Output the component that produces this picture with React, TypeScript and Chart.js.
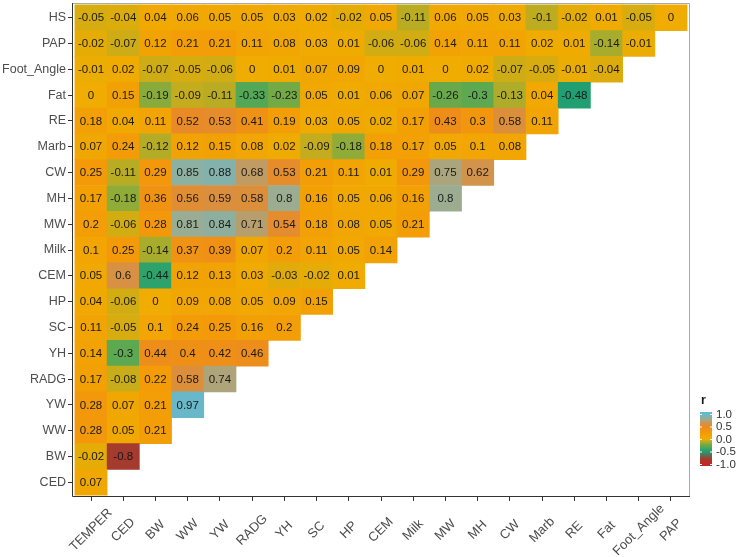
import React, { useEffect, useRef } from "react";
import { Chart, registerables } from "chart.js";

Chart.register(...registerables);

const colLabels = ["TEMPER", "CED", "BW", "WW", "YW", "RADG", "YH", "SC", "HP", "CEM", "Milk", "MW", "MH", "CW", "Marb", "RE", "Fat", "Foot_Angle", "PAP"];
const rowLabels = ["HS", "PAP", "Foot_Angle", "Fat", "RE", "Marb", "CW", "MH", "MW", "Milk", "CEM", "HP", "SC", "YH", "RADG", "YW", "WW", "BW", "CED"];

const rowHS = [-0.05, -0.04, 0.04, 0.06, 0.05, 0.05, 0.03, 0.02, -0.02, 0.05, -0.11, 0.06, 0.05, 0.03, -0.1, -0.02, 0.01, -0.05, 0];
const rowPAP = [-0.02, -0.07, 0.12, 0.21, 0.21, 0.11, 0.08, 0.03, 0.01, -0.06, -0.06, 0.14, 0.11, 0.11, 0.02, 0.01, -0.14, -0.01];
const rowFootAngle = [-0.01, 0.02, -0.07, -0.05, -0.06, 0, 0.01, 0.07, 0.09, 0, 0.01, 0, 0.02, -0.07, -0.05, -0.01, -0.04];
const rowFat = [0, 0.15, -0.19, -0.09, -0.11, -0.33, -0.23, 0.05, 0.01, 0.06, 0.07, -0.26, -0.3, -0.13, 0.04, -0.48];
const rowRE = [0.18, 0.04, 0.11, 0.52, 0.53, 0.41, 0.19, 0.03, 0.05, 0.02, 0.17, 0.43, 0.3, 0.58, 0.11];
const rowMarb = [0.07, 0.24, -0.12, 0.12, 0.15, 0.08, 0.02, -0.09, -0.18, 0.18, 0.17, 0.05, 0.1, 0.08];
const rowCW = [0.25, -0.11, 0.29, 0.85, 0.88, 0.68, 0.53, 0.21, 0.11, 0.01, 0.29, 0.75, 0.62];
const rowMH = [0.17, -0.18, 0.36, 0.56, 0.59, 0.58, 0.8, 0.16, 0.05, 0.06, 0.16, 0.8];
const rowMW = [0.2, -0.06, 0.28, 0.81, 0.84, 0.71, 0.54, 0.18, 0.08, 0.05, 0.21];
const rowMilk = [0.1, 0.25, -0.14, 0.37, 0.39, 0.07, 0.2, 0.11, 0.05, 0.14];
const rowCEM = [0.05, 0.6, -0.44, 0.12, 0.13, 0.03, -0.03, -0.02, 0.01];
const rowHP = [0.04, -0.06, 0, 0.09, 0.08, 0.05, 0.09, 0.15];
const rowSC = [0.11, -0.05, 0.1, 0.24, 0.25, 0.16, 0.2];
const rowYH = [0.14, -0.3, 0.44, 0.4, 0.42, 0.46];
const rowRADG = [0.17, -0.08, 0.22, 0.58, 0.74];
const rowYW = [0.28, 0.07, 0.21, 0.97];
const rowWW = [0.28, 0.05, 0.21];
const rowBW = [-0.02, -0.8];
const rowCED = [0.07];

const matrix = [rowHS, rowPAP, rowFootAngle, rowFat, rowRE, rowMarb, rowCW, rowMH, rowMW, rowMilk, rowCEM, rowHP, rowSC, rowYH, rowRADG, rowYW, rowWW, rowBW, rowCED];

const legendTicks = [1.0, 0.5, 0.0, -0.5, -1.0];

const colorStops: [number, number[]][] = [
  [-1.0, [192, 40, 38]],
  [-0.8, [165, 58, 46]],
  [-0.5, [27, 158, 119]],
  [-0.33, [82, 168, 86]],
  [-0.22, [118, 170, 68]],
  [-0.12, [180, 172, 38]],
  [0.0, [240, 172, 0]],
  [0.25, [244, 154, 8]],
  [0.5, [236, 138, 32]],
  [0.6, [216, 144, 66]],
  [0.8, [155, 172, 145]],
  [1.0, [96, 186, 212]],
];

function colorFor(v: number): string {
  if (v <= colorStops[0][0]) return `rgb(${colorStops[0][1].join(",")})`;
  for (let i = 1; i < colorStops.length; i++) {
    const [v1, c1] = colorStops[i];
    const [v0, c0] = colorStops[i - 1];
    if (v <= v1) {
      const t = (v - v0) / (v1 - v0);
      const c = c0.map((a, k) => Math.round(a + (c1[k] - a) * t));
      return `rgb(${c.join(",")})`;
    }
  }
  return `rgb(${colorStops[colorStops.length - 1][1].join(",")})`;
}

const FONT = "'Liberation Sans', Arial, sans-serif";

export default function App() {
  const ref = useRef<HTMLCanvasElement>(null);
  useEffect(() => {
    if (!ref.current) return;
    const n = rowLabels.length;
    const cells: any[] = [];
    matrix.forEach((row, k) => {
      row.forEach((r, j) => {
        cells.push({ x: j, y: [n - 1 - k, n - k], r });
      });
    });

    const cellText = {
      id: "cellText",
      afterDatasetsDraw(chart: any) {
        const ctx = chart.ctx;
        const meta = chart.getDatasetMeta(0);
        ctx.save();
        ctx.font = `11.5px ${FONT}`;
        ctx.fillStyle = "#1a1a1a";
        ctx.textAlign = "center";
        ctx.textBaseline = "middle";
        meta.data.forEach((el: any, i: number) => {
          const r = cells[i].r;
          ctx.fillText(String(r), el.x, (el.y + el.base) / 2 + 0.5);
        });
        ctx.restore();
      },
    };

    const frame = {
      id: "frame",
      afterDraw(chart: any) {
        const { ctx, chartArea: a } = chart;
        const xs = chart.scales.x;
        ctx.save();
        ctx.lineWidth = 1;
        ctx.strokeStyle = "#aaaaaa";
        ctx.beginPath();
        ctx.moveTo(a.left, a.top + 0.5);
        ctx.lineTo(a.right - 0.5, a.top + 0.5);
        ctx.lineTo(a.right - 0.5, a.bottom);
        ctx.stroke();
        ctx.strokeStyle = "#333333";
        ctx.beginPath();
        ctx.moveTo(a.left + 0.5, a.top);
        ctx.lineTo(a.left + 0.5, a.bottom - 0.5);
        ctx.lineTo(a.right, a.bottom - 0.5);
        ctx.stroke();

        // x labels rotated 45 degrees around their centre
        ctx.font = `13px ${FONT}`;
        ctx.fillStyle = "#4d4d4d";
        ctx.textAlign = "center";
        ctx.textBaseline = "middle";
        colLabels.forEach((lab, i) => {
          const px = xs.getPixelForValue(i);
          ctx.save();
          ctx.translate(px, a.bottom + 33);
          ctx.rotate(-Math.PI / 4);
          ctx.fillText(lab, 0, 0);
          ctx.restore();
        });

        // colour bar legend
        const bx = 700, bw = 12, yTop = 414, yBot = 464;
        const ext = 2;
        const grad = ctx.createLinearGradient(0, yBot + ext, 0, yTop - ext);
        for (let s = 0; s <= 40; s++) {
          const v = -1 - ext / 25 + (s / 40) * (2 + (2 * ext) / 25);
          grad.addColorStop(s / 40, colorFor(Math.max(-1, Math.min(1, v))));
        }
        ctx.fillStyle = grad;
        ctx.fillRect(bx, yTop - ext, bw, yBot - yTop + 2 * ext);
        ctx.fillStyle = "#1a1a1a";
        ctx.font = `bold 12.5px ${FONT}`;
        ctx.textAlign = "left";
        ctx.textBaseline = "middle";
        ctx.fillText("r", bx + 1, 401);
        ctx.font = `11.5px ${FONT}`;
        ctx.fillStyle = "#333333";
        legendTicks.forEach((t) => {
          const y = yBot - ((t + 1) / 2) * (yBot - yTop);
          ctx.strokeStyle = "#ffffff";
          ctx.beginPath();
          ctx.moveTo(bx, y + 0.5);
          ctx.lineTo(bx + 2, y + 0.5);
          ctx.moveTo(bx + bw - 2, y + 0.5);
          ctx.lineTo(bx + bw, y + 0.5);
          ctx.stroke();
          ctx.fillText(t.toFixed(1), bx + bw + 4, y + 0.5);
        });
        ctx.restore();
      },
    };

    const chart = new Chart(ref.current, {
      type: "bar",
      data: {
        datasets: [
          {
            data: cells,
            backgroundColor: (c: any) => (c.raw ? colorFor(c.raw.r) : "#fff"),
            borderWidth: 0,
            barPercentage: 1,
            categoryPercentage: 1,
            grouped: false,
          } as any,
        ],
      },
      options: {
        animation: false,
        responsive: false,
        maintainAspectRatio: false,
        layout: { padding: { top: 3, right: 53, left: 0, bottom: 0 } },
        plugins: { legend: { display: false }, tooltip: { enabled: false } },
        scales: {
          x: {
            type: "linear",
            offset: false,
            min: -0.59,
            max: 18.59,
            afterBuildTicks: (s: any) => {
              s.ticks = colLabels.map((_, i) => ({ value: i }));
            },
            afterFit: (s: any) => {
              s.height = 60;
              s.paddingLeft = 0;
              s.paddingRight = 0;
            },
            ticks: {
              display: false,
              autoSkip: false,
              callback: (_v: any, i: number) => colLabels[i],
            },
            grid: { offset: false, drawOnChartArea: false, tickLength: 4, color: "#333333" },
            border: { display: false },
          },
          y: {
            type: "linear",
            min: -0.07,
            max: 19.07,
            afterBuildTicks: (s: any) => {
              s.ticks = rowLabels.map((_, i) => ({ value: i + 0.5 }));
            },
            afterFit: (s: any) => {
              s.width = 72;
              s.paddingTop = 0;
              s.paddingBottom = 0;
            },
            ticks: {
              autoSkip: false,
              padding: 2,
              color: "#4d4d4d",
              font: { family: FONT, size: 12.5 },
              callback: (_v: any, i: number) => rowLabels[rowLabels.length - 1 - i],
            },
            grid: { drawOnChartArea: false, tickLength: 4, color: "#333333" },
            border: { display: false },
          },
        },
      } as any,
      plugins: [cellText, frame],
    });
    return () => chart.destroy();
  }, []);

  return (
    <div style={{ position: "absolute", left: 0, top: 0, width: 743, height: 557, background: "#fff" }}>
      <canvas ref={ref} width={743} height={557} style={{ width: 743, height: 557 }} />
    </div>
  );
}
